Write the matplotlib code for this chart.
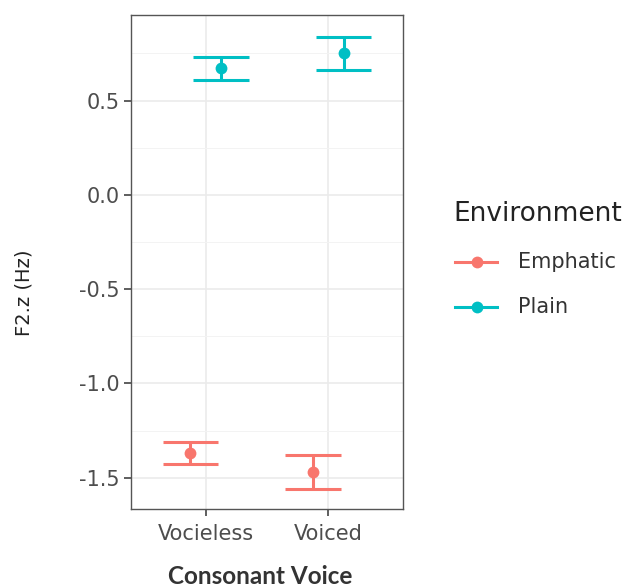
import matplotlib
matplotlib.use("Agg")
import matplotlib.pyplot as plt
from matplotlib.lines import Line2D
import numpy as np

categories = ["Vocieless", "Voiced"]
groups = ["Emphatic", "Plain"]
means = {"Emphatic": [-1.371, -1.471], "Plain": [0.672, 0.751]}
lower = {"Emphatic": [-1.429, -1.560], "Plain": [0.610, 0.663]}
upper = {"Emphatic": [-1.312, -1.380], "Plain": [0.733, 0.839]}
colors = {"Emphatic": "#F8766D", "Plain": "#00BFC4"}
y_ticks = [-1.5, -1.0, -0.5, 0.0, 0.5]

W, H = 631, 587
fig = plt.figure(figsize=(W / 100, H / 100), dpi=100)
ax = fig.add_axes([131 / W, 1 - 509 / H, 272 / W, 494 / H])

dodge = {"Emphatic": -0.125, "Plain": 0.125}
cap_half = 0.225
x_base = np.arange(1, len(categories) + 1)
for g in groups:
    xs = x_base + dodge[g]
    for x, m, lo, hi in zip(xs, means[g], lower[g], upper[g]):
        ax.plot([x, x], [lo, hi], color=colors[g], lw=2.2, solid_capstyle="butt", zorder=3)
        for yy in (lo, hi):
            ax.plot([x - cap_half, x + cap_half], [yy, yy], color=colors[g], lw=2.2,
                    solid_capstyle="butt", zorder=3)
    ax.plot(xs, means[g], "o", color=colors[g], ms=8.5, mew=0, zorder=4)

ax.set_xlim(0.39, 2.61)
ax.set_ylim(-1.666, 0.954)
ax.set_xticks(x_base)
ax.set_xticklabels(categories)
ax.set_yticks(y_ticks)
ax.set_yticklabels([f"{v:.1f}" for v in y_ticks])
ax.set_yticks([-1.25, -0.75, -0.25, 0.25, 0.75], minor=True)
ax.set_xticks([], minor=True)

ax.set_facecolor("white")
ax.grid(True, which="major", color="#EBEBEB", lw=1.2, zorder=0)
ax.grid(True, which="minor", axis="y", color="#F3F3F3", lw=0.7, zorder=0)
ax.set_axisbelow(True)
for s in ax.spines.values():
    s.set_color("#555555")
    s.set_linewidth(1.0)
ax.tick_params(which="major", length=5, width=1.1, color="#333333",
               labelsize=15, labelcolor="#4D4D4D")
ax.tick_params(axis="x", pad=6)
ax.tick_params(axis="y", pad=3)
ax.tick_params(which="minor", length=0)
for lab in ax.get_xticklabels() + ax.get_yticklabels():
    lab.set_family("DejaVu Sans")

fig.text(260 / W, 1 - 577 / H, "Consonant Voice", ha="center", va="center",
         fontsize=17.5, fontweight="bold", family="Lato", color="#333333")
fig.text(24 / W, 1 - 293 / H, "F2.z (Hz)", ha="center", va="center",
         rotation=90, fontsize=14, family="DejaVu Sans", color="#222222")

# legend drawn in figure pixel coordinates
fig.text(453 / W, 1 - 214 / H, "Environment", ha="left", va="center",
         fontsize=19, family="DejaVu Sans", color="#222222")
for g, yc in zip(groups, [262, 307]):
    yf = 1 - yc / H
    fig.add_artist(Line2D([455 / W, 497 / W], [yf, yf], color=colors[g], lw=2.2,
                          transform=fig.transFigure))
    fig.add_artist(Line2D([477 / W], [yf], color=colors[g], marker="o", ms=8.5, mew=0,
                          transform=fig.transFigure))
    fig.text(518 / W, yf, g, ha="left", va="center", fontsize=15,
             family="DejaVu Sans", color="#333333")

fig.savefig("out.png", dpi=100)
